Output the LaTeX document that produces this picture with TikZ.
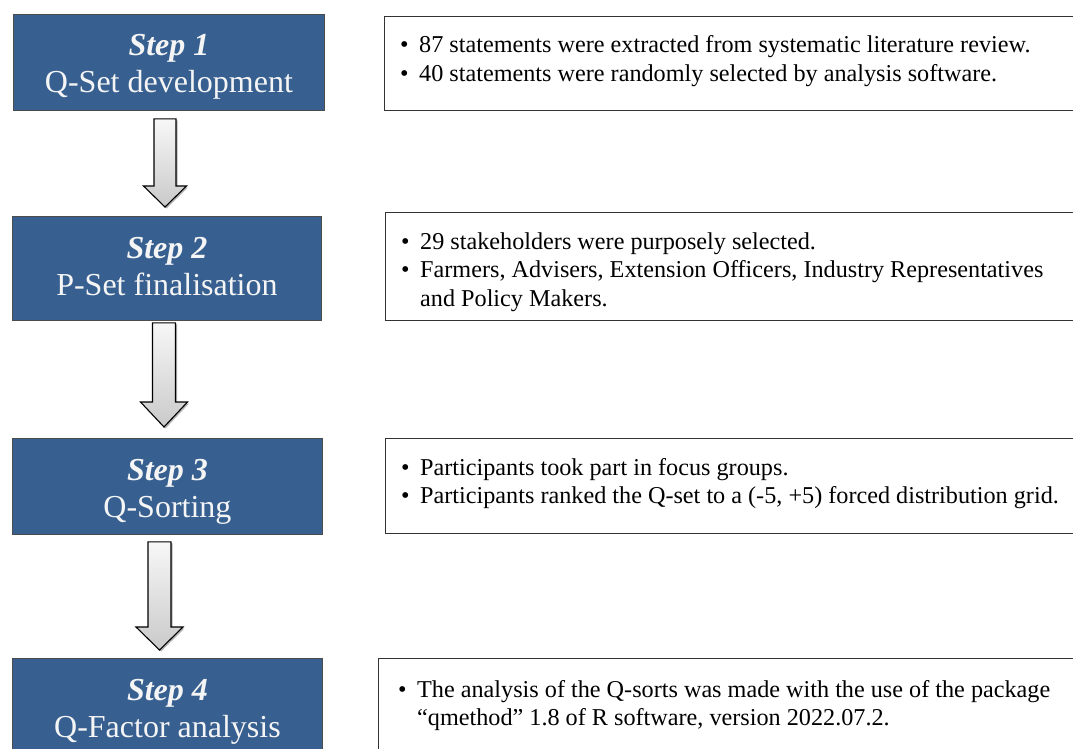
\documentclass[tikz,border=0pt]{standalone}
\usepackage{fontspec}
\setmainfont{Liberation Serif}
\usetikzlibrary{calc,shadows}
\definecolor{stepblue}{RGB}{55,96,145}
\definecolor{steptxt}{RGB}{245,245,245}
\newcommand\qarrow[8]{%
  \path[flowarrow] let \p1=(#1.south), \p2=(#2.north),
    \n1={\y1-#6pt}, \n2={\y2+#7pt}, \n3={\y2+#7pt+#8pt} in
    ({#3pt-#4pt},{\n1*1pt}) -- ({#3pt+#4pt},{\n1*1pt}) -- ({#3pt+#4pt},{\n3*1pt})
    -- ({#3pt+#5pt},{\n3*1pt}) -- ({#3pt},{\n2*1pt}) -- ({#3pt-#5pt},{\n3*1pt})
    -- ({#3pt-#4pt},{\n3*1pt}) -- cycle;}
\begin{document}
\begin{tikzpicture}[x=1pt,y=-1pt,
  stepbox/.style={draw=black!70, line width=0.9pt, fill=stepblue, inner sep=0pt, anchor=north west},
  steptext/.style={text=steptxt, anchor=base, inner sep=0pt, font=\fontsize{32}{38}\selectfont},
  infobox/.style={draw=black!80, line width=1pt, fill=white, inner sep=0pt, anchor=north west},
  infotext/.style={anchor=base west, align=left, inner sep=0pt, font=\fontsize{24.2}{28.5}\selectfont},
  flowarrow/.style={draw=black, line width=1.1pt, top color=gray!6, bottom color=gray!42,
    drop shadow={shadow xshift=1.5pt, shadow yshift=-1.5pt, opacity=0.3, fill=black}}]
\useasboundingbox (0,0) rectangle (1073,749);

% step boxes
\node[stepbox, minimum width=311, minimum height=96]  (s1) at (13,14)  {};
\node[stepbox, minimum width=309, minimum height=104] (s2) at (12,216) {};
\node[stepbox, minimum width=310, minimum height=96]  (s3) at (12,438) {};
\node[stepbox, minimum width=310, minimum height=110] (s4) at (12,658) {};

\node[steptext] (t1a) at ([yshift=-42pt]s1.north) {\textbf{\textit{Step 1}}};
\node[steptext] (t1b) at ([yshift=-79pt]s1.north) {Q-Set development};
\node[steptext] (t2a) at ([yshift=-42pt]s2.north) {\textbf{\textit{Step 2}}};
\node[steptext] (t2b) at ([yshift=-79pt]s2.north) {P-Set finalisation};
\node[steptext] (t3a) at ([yshift=-42pt]s3.north) {\textbf{\textit{Step 3}}};
\node[steptext] (t3b) at ([yshift=-79pt]s3.north) {Q-Sorting};
\node[steptext] (t4a) at ([yshift=-42pt]s4.north) {\textbf{\textit{Step 4}}};
\node[steptext] (t4b) at ([yshift=-79pt]s4.north) {Q-Factor analysis};

% info boxes
\node[infobox, minimum width=700, minimum height=94]  (i1) at (384,16)  {};
\node[infobox, minimum width=700, minimum height=108] (i2) at (385,212) {};
\node[infobox, minimum width=700, minimum height=95]  (i3) at (385,438) {};
\node[infobox, minimum width=710, minimum height=110] (i4) at (378,658) {};

\node[infotext] (x1) at (400,53) {\begin{tabular}[t]{@{}p{19pt}@{}l@{}}
\textbullet & 87 statements were extracted from systematic literature review.\\
\textbullet & 40 statements were randomly selected by analysis software.
\end{tabular}};
\node[infotext] (x2) at (401,249) {\begin{tabular}[t]{@{}p{19pt}@{}l@{}}
\textbullet & 29 stakeholders were purposely selected.\\
\textbullet & Farmers, Advisers, Extension Officers, Industry Representatives\\
 & and Policy Makers.
\end{tabular}};
\node[infotext] (x3) at (401,475) {\begin{tabular}[t]{@{}p{19pt}@{}l@{}}
\textbullet & Participants took part in focus groups.\\
\textbullet & Participants ranked the Q-set to a (-5, +5) forced distribution grid.
\end{tabular}};
\node[infotext] (x4) at (398,697) {\begin{tabular}[t]{@{}p{19pt}@{}l@{}}
\textbullet & The analysis of the Q-sorts was made with the use of the package\\
 & “qmethod” 1.8 of R software, version 2022.07.2.
\end{tabular}};

% arrows
\qarrow{s1}{s2}{165}{11}{21.5}{8}{9}{21}
\qarrow{s2}{s3}{164}{11.5}{23.5}{2}{11}{25}
\qarrow{s3}{s4}{159.5}{11.5}{23.5}{7}{8}{23}
\end{tikzpicture}
\end{document}
